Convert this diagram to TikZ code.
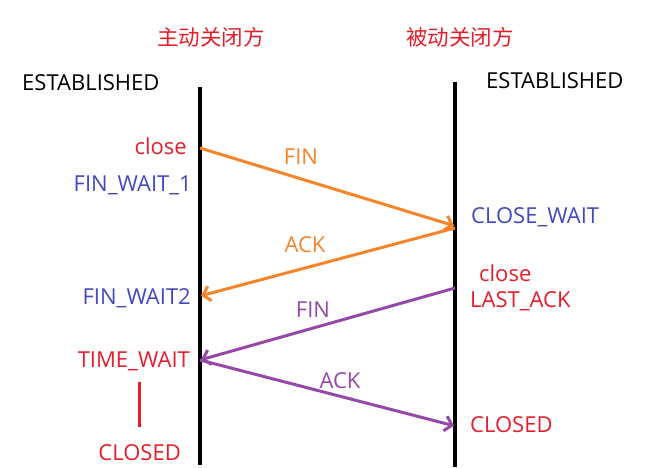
\documentclass[tikz,border=0pt]{standalone}
\usepackage{fontspec}
\setmainfont{Open Sans}
\newfontfamily\cjk{Noto Sans CJK SC}
\usetikzlibrary{arrows.meta}

\definecolor{tcpred}{RGB}{228,30,42}
\definecolor{tcpblue}{RGB}{66,72,196}
\definecolor{tcporange}{RGB}{246,132,42}
\definecolor{tcppurple}{RGB}{150,72,168}

\begin{document}
\begin{tikzpicture}[x=1pt, y=-1pt, >={Straight Barb[length=7pt,width=15pt]},
    state/.style={font=\fontsize{22}{26}\selectfont, inner sep=0pt, text depth=0pt},
    side/.style={font=\cjk\fontsize{21.5}{25}\selectfont, text=tcpred, inner sep=0pt},
    msg/.style={->, line width=3pt, shorten >=1pt}]

    \useasboundingbox (0,0) rectangle (650,467);

    % lifelines
    \coordinate (a0) at (200,87);
    \coordinate (a1) at (200,465);
    \coordinate (b0) at (455,82);
    \coordinate (b1) at (455,467);
    \draw[line width=4pt] (a0) -- (a1);
    \draw[line width=4pt] (b0) -- (b1);

    % headers
    \node[side] (active) at (211,37) {主动关闭方};
    \node[side] (passive) at (460,37) {被动关闭方};
    \node[state, anchor=west] (estA) at (22,83) {ESTABLISHED};
    \node[state, anchor=west] (estB) at (486,81) {ESTABLISHED};

    % points on the lifelines
    \coordinate (a2) at (200,148);
    \coordinate (b2) at (455,226);
    \coordinate (b3) at (455,228);
    \coordinate (a3) at (200,296);
    \coordinate (b4) at (455,288);
    \coordinate (a4) at (200,360);
    \coordinate (b5) at (455,426);

    % states
    \node[state, anchor=east, text=tcpred] (closeA) at (187,146) {close};
    \node[state, anchor=east, text=tcpblue] (fw1) at (192,184) {FIN\_WAIT\_1};
    \node[state, anchor=west, text=tcpblue] (cw) at (471,216) {CLOSE\_WAIT};
    \node[state, anchor=west, text=tcpred] (closeB) at (479,273) {close};
    \node[state, anchor=west, text=tcpred] (la) at (470,300) {LAST\_ACK};
    \node[state, anchor=east, text=tcpblue] (fw2) at (191,297) {FIN\_WAIT2};
    \node[state, anchor=east, text=tcpred] (tw) at (190,360) {TIME\_WAIT};
    \node[state, anchor=west, text=tcpred] (closedB) at (470,425) {CLOSED};
    \node[state, anchor=east, text=tcpred] (closedA) at (181,453) {CLOSED};
    \draw[tcpred, line width=3pt] (139,382) -- (139,427);

    % messages
    \draw[msg, tcporange] (a2) -- (b2);
    \draw[msg, tcporange] (b3) -- (a3);
    \draw[msg, tcppurple] (b4) -- (a4);
    \draw[msg, tcppurple] (a4) -- (b5);

    \node[state, text=tcporange] (fin1) at (301,157) {FIN};
    \node[state, text=tcporange] (ack1) at (305,245) {ACK};
    \node[state, text=tcppurple] (fin2) at (313,310) {FIN};
    \node[state, text=tcppurple] (ack2) at (340,381) {ACK};
\end{tikzpicture}
\end{document}
